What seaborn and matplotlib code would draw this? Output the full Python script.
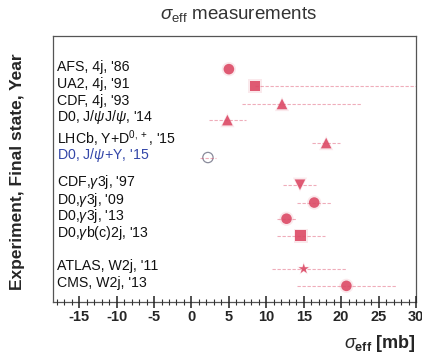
import seaborn as sns
import matplotlib.pyplot as plt
import matplotlib.transforms as mtransforms
from matplotlib.ticker import MultipleLocator
import pandas as pd

# valores
experimentos = [
    "AFS, 4j, '86", "UA2, 4j, '91", "CDF, 4j, '93", r"D0, J/$\psi$J/$\psi$, '14",
    r"LHCb, $\Upsilon$+D$^{0,+}$, '15", r"D0, J/$\psi$+$\Upsilon$, '15",
    r"CDF,$\gamma$3j, '97", r"D0,$\gamma$3j, '09", r"D0,$\gamma$3j, '13",
    r"D0,$\gamma$b(c)2j, '13", "ATLAS, W2j, '11", "CMS, W2j, '13",
]
sigma_eff = [5.0, 8.5, 12.1, 4.8, 18.0, 2.2, 14.5, 16.4, 12.7, 14.6, 15.0, 20.7]
erro_baixo = [0.0, 0.0, 5.4, 2.5, 1.9, 1.1, 2.3, 2.3, 1.3, 3.2, 4.2, 6.6]
erro_alto = [0.0, 21.5, 10.7, 2.5, 1.9, 1.1, 2.2, 2.3, 1.3, 3.2, 5.8, 6.6]
linhas = [0, 1.0, 2.05, 3.0, 4.35, 5.2, 6.8, 7.85, 8.8, 9.8, 11.75, 12.75]
marcadores = ['o', 's', '^', '^', '^', 'o', 'v', 'o', 'o', 's', '*', 'o']
aberto = [False, False, False, False, False, True, False, False, False, False, False, False]
ticks_x = [-15, -10, -5, 0, 5, 10, 15, 20, 25, 30]

df = pd.DataFrame({
    'Experimento': experimentos,
    'sigma': sigma_eff,
    'linha': linhas,
    'baixo': erro_baixo,
    'alto': erro_alto,
    'aberto': aberto,
})

sns.set_style('ticks')
plt.rcParams['font.family'] = ['Liberation Sans', 'DejaVu Sans']
plt.rcParams['mathtext.fontset'] = 'custom'
plt.rcParams['mathtext.rm'] = 'Liberation Sans'
plt.rcParams['mathtext.it'] = 'Liberation Sans:italic'
plt.rcParams['mathtext.bf'] = 'Liberation Sans:bold'

rosa = '#dc4a66'

fig = plt.figure(figsize=(4.22, 3.58), dpi=100)
ax = fig.add_axes([53 / 422, 1 - 302 / 358, 363 / 422, 266 / 358])
ax.set_axisbelow(False)

# barras de erro tracejadas
cheios = df[~df['aberto']]
vazios = df[df['aberto']]
eb = ax.errorbar(df['sigma'], df['linha'], xerr=[df['baixo'], df['alto']],
                 fmt='none', ecolor=rosa, elinewidth=0.8, alpha=0.45, capsize=0)
eb[2][0].set_linestyle((0, (3, 1.5)))

# halo borrado + marcadores
mapa = dict(zip(experimentos, marcadores))
sns.scatterplot(data=cheios, x='sigma', y='linha', style='Experimento', markers=mapa,
                color=rosa, s=105, alpha=0.12, edgecolor='none', legend=False, ax=ax)
sns.scatterplot(data=cheios, x='sigma', y='linha', style='Experimento', markers=mapa,
                color=rosa, s=58, alpha=0.9, edgecolor='none', legend=False, ax=ax)
sns.scatterplot(data=vazios, x='sigma', y='linha', marker='o', s=55,
                facecolor='none', edgecolor='#8a8c9c', linewidth=0.9, legend=False, ax=ax)

# rótulos dos experimentos
trans = mtransforms.blended_transform_factory(ax.transAxes, ax.transData)
for i, row in df.iterrows():
    cor = '#3346a8' if row['aberto'] else '#111111'
    ax.text(0.012, row['linha'] + 0.08, row['Experimento'], transform=trans,
            ha='left', va='baseline', fontsize=10.2, color=cor)

ax.set_xlim(-18.5, 30)
ax.set_ylim(13.7, -1.95)
ax.set_xticks(ticks_x)
ax.set_xticklabels([str(t) for t in ticks_x], fontsize=10.5, fontweight='bold')
ax.xaxis.set_minor_locator(MultipleLocator(1))
ax.set_yticks([])
ax.xaxis.set_tick_params(which='both', bottom=True, top=False, direction='inout')
ax.tick_params(axis='x', which='major', length=8, width=1.1, color='#222222', pad=2)
ax.tick_params(axis='x', which='minor', length=4, width=0.8, color='#333333')
ax.set_xlabel('')
ax.set_ylabel('')

for lado in ax.spines.values():
    lado.set_linestyle((0, (1.5, 1)))
    lado.set_color('#555555')
    lado.set_linewidth(0.9)

fig.text(238 / 422, 1 - 15 / 358, r"$\sigma_{\rm eff}$ measurements",
         ha='center', va='center', fontsize=13.5, color='#333333')
fig.text(0.985, 1 - 343 / 358, r"$\sigma_{\mathbf{eff}}$ [mb]",
         ha='right', va='center', fontsize=13, fontweight='bold')
fig.text(18 / 422, 1 - 172 / 358, "Experiment, Final state, Year",
         rotation=90, ha='center', va='center', fontsize=12.5, fontweight='bold')

fig.savefig('out.png', dpi=100)
